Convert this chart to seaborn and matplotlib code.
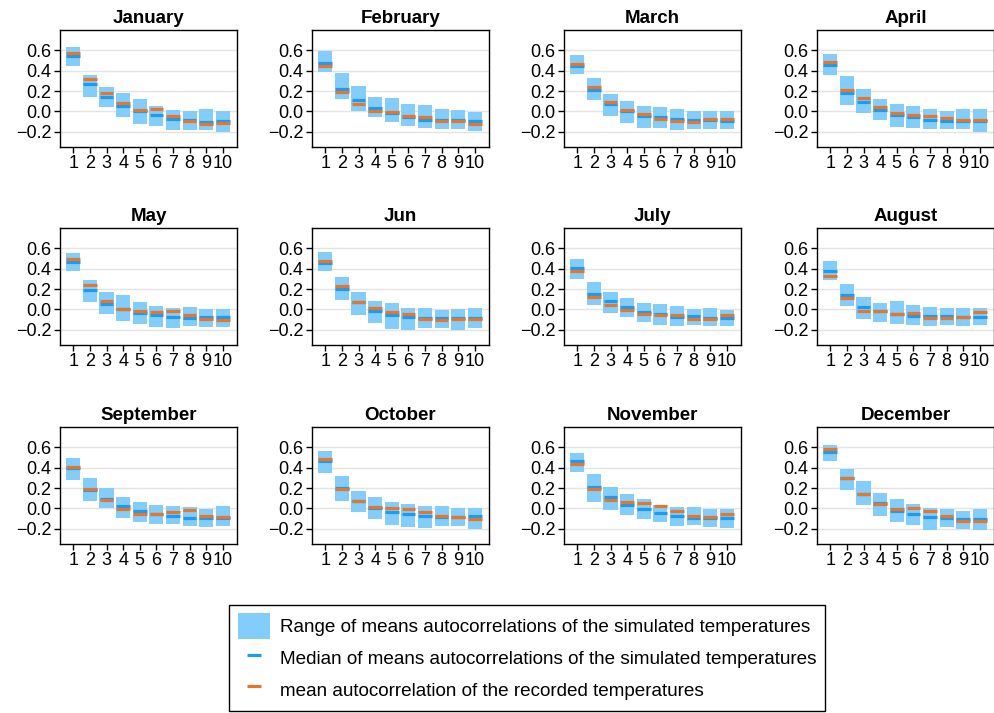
import numpy as np
import pandas as pd
import matplotlib
matplotlib.use("Agg")
import matplotlib.pyplot as plt
import seaborn as sns
from matplotlib.patches import Patch
from matplotlib.lines import Line2D

months = ["January", "February", "March", "April", "May", "Jun",
          "July", "August", "September", "October", "November", "December"]
lags = list(range(1, 11))

range_high = [
    [0.63, 0.36, 0.24, 0.18, 0.12, 0.05, 0.01, 0.00, 0.02, 0.00],
    [0.59, 0.38, 0.25, 0.14, 0.13, 0.07, 0.06, 0.02, 0.01, -0.01],
    [0.55, 0.33, 0.17, 0.10, 0.05, 0.045, 0.02, 0.00, 0.00, 0.00],
    [0.56, 0.35, 0.22, 0.12, 0.07, 0.05, 0.02, 0.00, 0.02, 0.02],
    [0.55, 0.29, 0.17, 0.14, 0.07, 0.035, 0.015, 0.025, 0.00, 0.00],
    [0.56, 0.32, 0.17, 0.085, 0.065, 0.015, 0.015, -0.005, 0.00, 0.015],
    [0.50, 0.27, 0.17, 0.11, 0.065, 0.055, 0.035, 0.00, 0.015, -0.005],
    [0.48, 0.25, 0.125, 0.065, 0.085, 0.045, 0.025, 0.015, 0.015, 0.015],
    [0.50, 0.30, 0.20, 0.11, 0.065, 0.035, 0.025, 0.015, -0.005, 0.025],
    [0.565, 0.315, 0.175, 0.115, 0.065, 0.045, 0.025, 0.025, 0.005, 0.005],
    [0.545, 0.335, 0.215, 0.145, 0.095, 0.035, 0.015, 0.015, -0.005, -0.005],
    [0.625, 0.385, 0.265, 0.155, 0.095, 0.045, 0.005, -0.005, -0.025, -0.005],
]
range_low = [
    [0.45, 0.14, 0.04, -0.06, -0.12, -0.14, -0.18, -0.18, -0.18, -0.20],
    [0.39, 0.125, 0.00, -0.06, -0.10, -0.14, -0.16, -0.17, -0.17, -0.19],
    [0.37, 0.115, -0.05, -0.11, -0.16, -0.16, -0.18, -0.17, -0.17, -0.17],
    [0.36, 0.06, -0.02, -0.085, -0.15, -0.16, -0.17, -0.17, -0.17, -0.20],
    [0.375, 0.075, -0.045, -0.115, -0.14, -0.17, -0.18, -0.16, -0.17, -0.17],
    [0.375, 0.095, -0.055, -0.13, -0.19, -0.20, -0.18, -0.18, -0.20, -0.18],
    [0.295, 0.045, -0.035, -0.075, -0.125, -0.155, -0.165, -0.155, -0.165, -0.165],
    [0.285, 0.035, -0.095, -0.125, -0.145, -0.155, -0.165, -0.155, -0.165, -0.155],
    [0.275, 0.075, 0.00, -0.095, -0.135, -0.155, -0.155, -0.175, -0.185, -0.175],
    [0.345, 0.075, -0.035, -0.105, -0.165, -0.185, -0.195, -0.175, -0.175, -0.205],
    [0.355, 0.065, -0.015, -0.065, -0.105, -0.135, -0.175, -0.165, -0.185, -0.195],
    [0.465, 0.185, 0.035, -0.075, -0.135, -0.165, -0.215, -0.185, -0.205, -0.215],
]
sim_median = [
    [0.54, 0.27, 0.14, 0.05, 0.00, -0.04, -0.07, -0.08, -0.10, -0.095],
    [0.48, 0.225, 0.11, 0.03, -0.02, -0.06, -0.08, -0.08, -0.08, -0.09],
    [0.45, 0.21, 0.07, 0.00, -0.045, -0.06, -0.07, -0.08, -0.08, -0.09],
    [0.46, 0.185, 0.09, 0.015, -0.04, -0.06, -0.08, -0.09, -0.09, -0.09],
    [0.465, 0.19, 0.055, 0.00, -0.04, -0.06, -0.07, -0.08, -0.075, -0.075],
    [0.46, 0.20, 0.07, -0.02, -0.055, -0.075, -0.08, -0.085, -0.085, -0.085],
    [0.405, 0.155, 0.08, 0.025, -0.025, -0.045, -0.075, -0.065, -0.08, -0.085],
    [0.38, 0.14, 0.025, -0.02, -0.045, -0.065, -0.065, -0.065, -0.075, -0.07],
    [0.40, 0.18, 0.095, 0.025, -0.025, -0.06, -0.07, -0.09, -0.095, -0.095],
    [0.465, 0.20, 0.07, 0.00, -0.04, -0.06, -0.07, -0.085, -0.08, -0.075],
    [0.465, 0.21, 0.11, 0.035, -0.005, -0.05, -0.07, -0.09, -0.095, -0.09],
    [0.55, 0.30, 0.145, 0.055, -0.025, -0.06, -0.08, -0.095, -0.10, -0.10],
]
obs_mean = [
    [0.57, 0.315, 0.185, 0.08, 0.015, 0.02, -0.05, -0.095, -0.125, -0.115],
    [0.45, 0.195, 0.07, 0.005, -0.005, -0.045, -0.06, -0.095, -0.09, -0.12],
    [0.47, 0.24, 0.09, 0.015, -0.025, -0.075, -0.095, -0.105, -0.075, -0.075],
    [0.49, 0.215, 0.13, 0.04, -0.015, -0.04, -0.05, -0.065, -0.08, -0.08],
    [0.495, 0.24, 0.08, 0.005, -0.015, -0.025, -0.015, -0.055, -0.09, -0.105],
    [0.475, 0.23, 0.075, 0.01, -0.025, -0.05, -0.095, -0.105, -0.09, -0.09],
    [0.38, 0.12, 0.04, -0.005, -0.05, -0.055, -0.06, -0.09, -0.095, -0.06],
    [0.33, 0.11, -0.015, -0.015, -0.05, -0.04, -0.08, -0.08, -0.07, -0.03],
    [0.41, 0.19, 0.08, -0.01, -0.055, -0.06, -0.04, -0.02, -0.07, -0.08],
    [0.49, 0.19, 0.07, 0.015, 0.005, -0.01, -0.04, -0.07, -0.08, -0.10],
    [0.44, 0.19, 0.08, 0.06, 0.05, 0.02, -0.03, -0.07, -0.08, -0.06],
    [0.58, 0.30, 0.145, 0.04, -0.01, 0.005, -0.03, -0.07, -0.12, -0.12],
]
yticks = [-0.2, 0.0, 0.2, 0.4, 0.6]
legend_labels = [
    "Range of means autocorrelations of the simulated temperatures",
    "Median of means autocorrelations of the simulated temperatures",
    "mean autocorrelation of the recorded temperatures",
]

BOX = "#82CDFB"
MED = "#1E9AF0"
OBS = "#E5762A"
FS_TICK = 13
FS_TITLE = 13.5
FS_LEG = 13.6

sns.set_theme(style="ticks")
plt.rcParams["font.family"] = ["Liberation Sans", "DejaVu Sans"]
plt.rcParams["axes.unicode_minus"] = True
plt.rcParams["text.color"] = "black"

W, H = 995, 713
fig = plt.figure(figsize=(W / 100, H / 100), dpi=100)
col_left = [60, 312, 564, 817]
row_top = [30, 228, 427]
aw, ah = 177, 117

for i, m in enumerate(months):
    r, c = divmod(i, 4)
    ax = fig.add_axes([col_left[c] / W, 1 - (row_top[r] + ah) / H, aw / W, ah / H])
    df = pd.DataFrame({"lag": lags, "low": range_low[i], "high": range_high[i],
                       "median": sim_median[i], "mean": obs_mean[i]})
    df["span"] = df["high"] - df["low"]
    sns.barplot(data=df, x="lag", y="span", bottom=df["low"].to_numpy(),
                native_scale=True, width=0.85, color=BOX, saturation=1,
                errorbar=None, linewidth=0, ax=ax, zorder=2)
    ax.hlines(df["median"], df["lag"] - 0.41, df["lag"] + 0.41, color=MED,
              lw=2.3, capstyle="butt", zorder=3)
    ax.hlines(df["mean"], df["lag"] - 0.41, df["lag"] + 0.41, color=OBS,
              lw=2.3, capstyle="butt", zorder=4)
    ax.set_xlim(0.2, 10.85)
    ax.set_ylim(-0.35, 0.8)
    ax.set_xticks(lags)
    ax.set_xticklabels([str(l) for l in lags])
    ax.set_yticks(yticks)
    ax.set_yticklabels([f"{v:.1f}".replace("-", "\u2212") for v in yticks])
    ax.set_xlabel("")
    ax.set_ylabel("")
    ax.yaxis.grid(True, color="#e3e3e3", lw=1.0, zorder=0)
    ax.xaxis.grid(False)
    ax.set_axisbelow(True)
    for s in ax.spines.values():
        s.set_visible(True)
        s.set_color("black")
        s.set_linewidth(1.0)
    ax.tick_params(direction="out", length=4, width=1, labelsize=FS_TICK,
                   colors="black", labelcolor="black", pad=2)
    ax.set_title(m, fontweight="bold", fontsize=FS_TITLE, pad=5, color="black")

handles = [
    Patch(facecolor=BOX, edgecolor="none"),
    Line2D([], [], color=MED, marker="_", ls="none", markersize=10, markeredgewidth=2.3),
    Line2D([], [], color=OBS, marker="_", ls="none", markersize=10, markeredgewidth=2.3),
]
leg = fig.legend(handles, legend_labels, loc="center",
                 bbox_to_anchor=(527 / W, 1 - 658 / H), frameon=True,
                 fancybox=False, edgecolor="black", framealpha=1,
                 fontsize=FS_LEG, handlelength=1.7, handleheight=1.75,
                 labelspacing=0.3, borderpad=0.45, handletextpad=0.5,
                 borderaxespad=0)
leg.get_frame().set_linewidth(1.0)
for t in leg.get_texts():
    t.set_color("black")

fig.savefig("out.png", dpi=100)
